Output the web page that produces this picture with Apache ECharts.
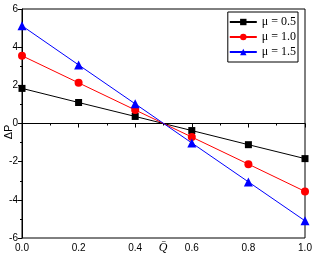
<!DOCTYPE html>
<html>
<head>
<meta charset="utf-8">
<script src="https://cdn.jsdelivr.net/npm/echarts@6/dist/echarts.min.js"></script>
<style>html,body{margin:0;padding:0;background:#fff;}#c{width:315px;height:257px;}</style>
</head>
<body>
<div id="c"></div>
<script>
const xValues = [0.0, 0.2, 0.4, 0.6, 0.8, 1.0];
const seriesNames = ['\u03bc = 0.5', '\u03bc = 1.0', '\u03bc = 1.5'];
const mu05 = [1.84, 1.10, 0.37, -0.37, -1.11, -1.84];
const mu10 = [3.55, 2.13, 0.71, -0.71, -2.13, -3.56];
const mu15 = [5.12, 3.07, 1.03, -1.02, -3.06, -5.10];
const xTicks = [0.0, 0.2, 0.4, 0.6, 0.8, 1.0];
const yTicks = [-6, -4, -2, 0, 2, 4, 6];
const xTitle = 'Q\u0304';
const yTitle = '\u0394P';

const colors = ['#000000', '#ff0000', '#0000ff'];
const symbols = ['rect', 'circle', 'triangle'];
const sizes = [7, 8, 9];
const allData = [mu05, mu10, mu15];

const chart = echarts.init(document.getElementById('c'), null, {renderer: 'canvas'});
const labelFont = {fontFamily: 'Liberation Sans, Arial', fontSize: 10, color: '#000'};
chart.setOption({
  animation: false,
  backgroundColor: '#fff',
  grid: {left: 22, right: 10, top: 9, bottom: 19, containLabel: false, outerBoundsMode: 'none',
         show: true, borderColor: '#000', borderWidth: 1, backgroundColor: 'transparent'},
  legend: {
    orient: 'vertical', right: 17, top: 12,
    borderColor: '#000', borderWidth: 1, borderRadius: 0,
    padding: [4, 2, 4, 1], itemWidth: 27, itemHeight: 8, itemGap: 3,
    textStyle: {fontFamily: 'Liberation Serif, Times New Roman', fontSize: 12, color: '#000', padding: [0, 0, 0, 0]},
    data: seriesNames
  },
  graphic: [{
    type: 'text', x: 3, y: 132, rotation: Math.PI / 2,
    style: {text: yTitle, fontFamily: 'Liberation Sans, Arial', fontSize: 11, fill: '#000', align: 'center', verticalAlign: 'top'}
  }, {
    type: 'text', x: 163, y: 242,
    style: {text: xTitle, fontFamily: 'Liberation Serif, Times New Roman', fontStyle: 'italic', fontSize: 12, fill: '#000', align: 'center', verticalAlign: 'top'}
  }],
  xAxis: {
    type: 'value', min: xTicks[0], max: xTicks[xTicks.length - 1], interval: 0.2,
    axisLine: {show: true, lineStyle: {color: '#000', width: 1}},
    axisTick: {show: true, inside: false, length: 4, lineStyle: {color: '#000'}},
    minorTick: {show: true, splitNumber: 2, length: 2, lineStyle: {color: '#000'}},
    splitLine: {show: false},
    axisLabel: Object.assign({margin: 5, formatter: v => v.toFixed(1)}, labelFont)
  },
  yAxis: {
    type: 'value', min: yTicks[0], max: yTicks[yTicks.length - 1], interval: 2,
    axisLine: {show: true, lineStyle: {color: '#000', width: 1}},
    axisTick: {show: true, inside: false, length: 4, lineStyle: {color: '#000'}},
    minorTick: {show: true, splitNumber: 2, length: 2, lineStyle: {color: '#000'}},
    splitLine: {show: false},
    axisLabel: Object.assign({margin: 4}, labelFont)
  },
  series: seriesNames.map((n, i) => ({
    name: n, type: 'line',
    data: xValues.map((x, j) => [x, allData[i][j]]),
    symbol: symbols[i], symbolSize: sizes[i], showAllSymbol: true,
    lineStyle: {color: colors[i], width: 1},
    itemStyle: {color: colors[i], borderWidth: 0},
    emphasis: {disabled: true}
  }))
});
</script>
</body>
</html>
